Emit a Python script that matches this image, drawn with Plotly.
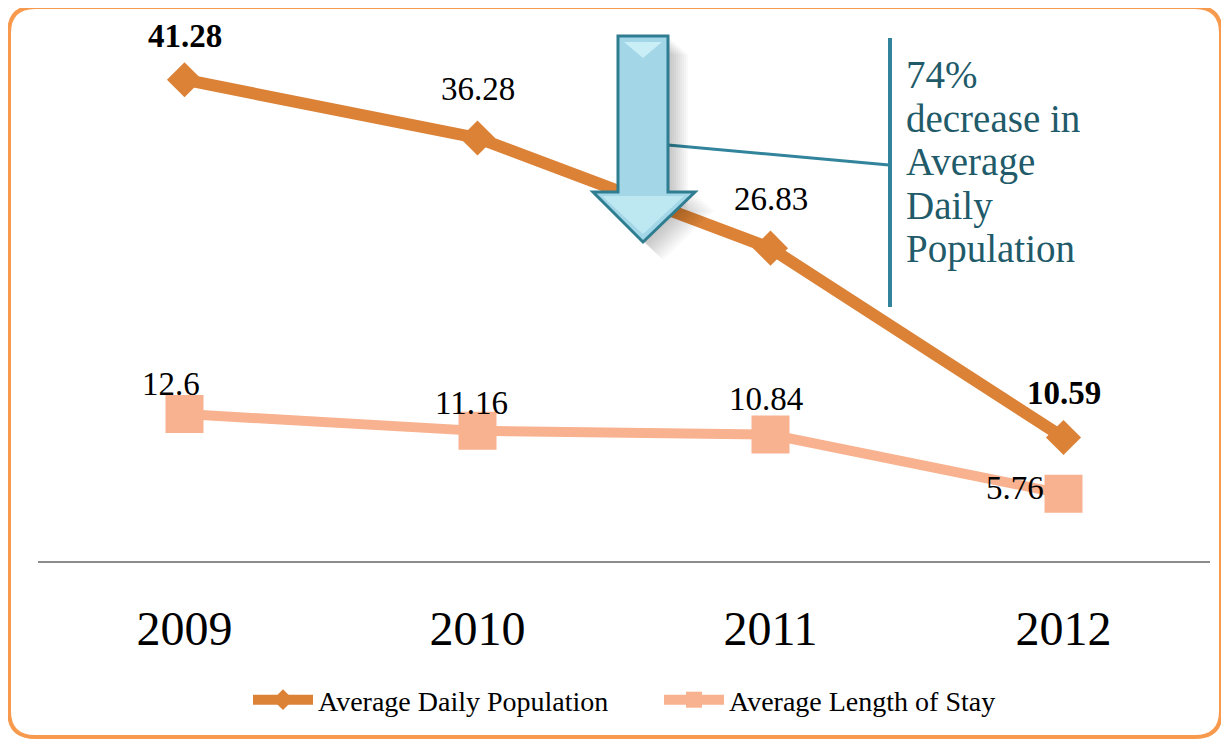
import plotly.graph_objects as go

years = ["2009", "2010", "2011", "2012"]
adp = [41.28, 36.28, 26.83, 10.59]
alos = [12.6, 11.16, 10.84, 5.76]
adp_labels = ["41.28", "36.28", "26.83", "10.59"]
adp_bold = [True, False, False, True]
alos_labels = ["12.6", "11.16", "10.84", "5.76"]
note_lines = ["74%", "decrease in", "Average", "Daily", "Population"]

# page body has an 8px margin, so the figure is drawn 8px smaller and offset
OFF = 8
W, H = 1229 - OFF, 742 - OFF
L, R, T, B = 30, 19, 12, 181
PW = W - L - R
PH = H - T - B
SERIF = "Liberation Serif, Times New Roman, serif"
DARK = "#DB8237"
LIGHT = "#F8B28F"
TEAL = "#31849B"
TEALTXT = "#215A69"


def px(x):
    return (x - OFF - L) / PW


def py(y):
    return (H - B - (y - OFF)) / PH


def path(points, close=True):
    s = "M " + " L ".join(f"{px(x):.5f},{py(y):.5f}" for x, y in points)
    return s + (" Z" if close else "")


fig = go.Figure()
fig.add_trace(go.Scatter(
    x=years, y=adp, name="Average Daily Population", mode="lines+markers",
    line=dict(color=DARK, width=12),
    marker=dict(symbol="diamond", size=27, color=DARK),
))
fig.add_trace(go.Scatter(
    x=years, y=alos, name="Average Length of Stay", mode="lines+markers",
    line=dict(color=LIGHT, width=10),
    marker=dict(symbol="square", size=38, color=LIGHT),
))

annotations = []
adp_off = [(0, 44), (0, 49), (0, 49), (0, 45)]
for i, (v, lab, b, (dx, dy)) in enumerate(zip(adp, adp_labels, adp_bold, adp_off)):
    annotations.append(dict(
        x=i, y=v, xref="x", yref="y", showarrow=False,
        text=f"<b>{lab}</b>" if b else lab, xshift=dx, yshift=dy,
        font=dict(family=SERIF, size=33, color="black"),
    ))
alos_off = [(-14, 30), (-6, 28), (-5, 36), (-49, 6)]
for i, (v, lab, (dx, dy)) in enumerate(zip(alos, alos_labels, alos_off)):
    annotations.append(dict(
        x=i, y=v, xref="x", yref="y", showarrow=False,
        text=lab, xshift=dx, yshift=dy,
        font=dict(family=SERIF, size=33, color="black"),
    ))
for k, line in enumerate(note_lines):
    annotations.append(dict(
        x=px(904), y=py(75 + 43.5 * k), xref="paper", yref="paper", showarrow=False,
        xanchor="left", yanchor="middle", align="left", text=line,
        font=dict(family=SERIF, size=39, color=TEALTXT),
    ))

# rounded border
x0, y0, x1, y1, r = 9, 7, 1221, 737, 26
border = (
    f"M {px(x0 + r):.5f},{py(y0):.5f} L {px(x1 - r):.5f},{py(y0):.5f} "
    f"Q {px(x1):.5f},{py(y0):.5f} {px(x1):.5f},{py(y0 + r):.5f} "
    f"L {px(x1):.5f},{py(y1 - r):.5f} "
    f"Q {px(x1):.5f},{py(y1):.5f} {px(x1 - r):.5f},{py(y1):.5f} "
    f"L {px(x0 + r):.5f},{py(y1):.5f} "
    f"Q {px(x0):.5f},{py(y1):.5f} {px(x0):.5f},{py(y1 - r):.5f} "
    f"L {px(x0):.5f},{py(y0 + r):.5f} "
    f"Q {px(x0):.5f},{py(y0):.5f} {px(x0 + r):.5f},{py(y0):.5f} Z"
)

arrow_pts = [(618, 36), (668, 36), (668, 192), (695, 192), (643, 242), (593, 192), (618, 192)]
shapes = [
    dict(type="path", xref="paper", yref="paper", path=border,
         line=dict(color="#F79A4E", width=4), fillcolor="rgba(0,0,0,0)", layer="above"),
    dict(type="path", xref="paper", yref="paper", path=path([(668, 145), (889, 165)], close=False),
         line=dict(color=TEAL, width=3), layer="above"),
    dict(type="path", xref="paper", yref="paper", path=path([(890, 38), (890, 307)], close=False),
         line=dict(color=TEAL, width=4), layer="above"),
]
for off in range(20, 1, -2):
    shapes.append(dict(type="path", xref="paper", yref="paper",
                       path=path([(x + off, y + off * 0.9) for x, y in arrow_pts]),
                       line=dict(width=0), fillcolor="rgba(0,0,0,0.025)", layer="above"))
shapes.append(dict(type="path", xref="paper", yref="paper", path=path(arrow_pts),
                   line=dict(color="#2E7D91", width=3), fillcolor="#A3D7E8", layer="above"))
shapes.append(dict(type="path", xref="paper", yref="paper",
                   path=path([(624, 42), (662, 42), (643, 58)]),
                   line=dict(width=0), fillcolor="#C9EEF6", layer="above"))
shapes.append(dict(type="path", xref="paper", yref="paper",
                   path=path([(602, 196), (684, 196), (643, 234)]),
                   line=dict(width=0), fillcolor="#BDE8F2", layer="above"))

fig.update_layout(
    width=W, height=H,
    margin=dict(l=L, r=R, t=T, b=B),
    paper_bgcolor="white", plot_bgcolor="white",
    showlegend=True,
    legend=dict(orientation="h", x=px(248), xanchor="left", y=py(700), yanchor="middle",
                font=dict(family=SERIF, size=28, color="black"),
                bgcolor="rgba(0,0,0,0)", itemwidth=60, entrywidth=336),
    xaxis=dict(type="category", range=[-0.5, 3.5], showgrid=False, zeroline=False,
               showline=True, linecolor="#8C8C8C", linewidth=2, ticks="",
               tickfont=dict(family=SERIF, size=48, color="black"),
               ticklabelstandoff=24, fixedrange=True),
    yaxis=dict(range=[0, PH / 11.66], visible=False, showgrid=False, zeroline=False),
    annotations=annotations, shapes=shapes,
)

fig.write_html("out.html")
